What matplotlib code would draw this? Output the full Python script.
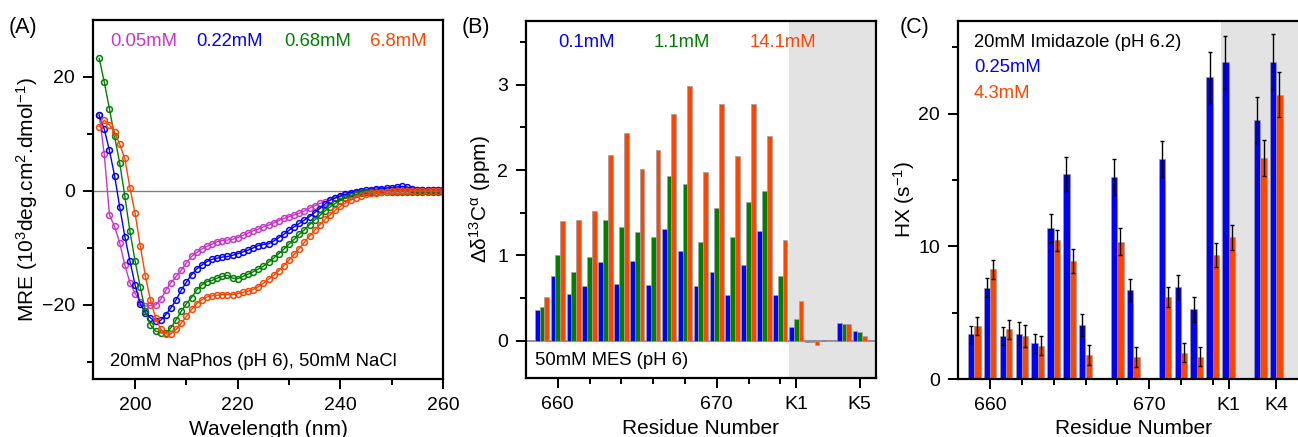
import numpy as np
import matplotlib
matplotlib.use("Agg")
import matplotlib.pyplot as plt

plt.rcParams['font.family'] = ['Liberation Sans', 'DejaVu Sans']
plt.rcParams['mathtext.fontset'] = 'custom'
plt.rcParams['mathtext.rm'] = 'Liberation Sans'
plt.rcParams['mathtext.it'] = 'Liberation Sans'
plt.rcParams['mathtext.default'] = 'regular'

# ---- panel A data: CD spectra (MRE, 10^3 deg cm^2 dmol^-1)
wl = np.arange(193, 261)
mre_005 = [13.4, 6.4, -4.2, -6.2, -9.1, -13.0, -16.1, -18.0, -19.4, -20.2, -20.1, -20.0, -19.0, -17.4,
           -16.1, -15.0, -13.9, -12.6, -11.5, -10.8, -10.2, -9.7, -9.3, -8.9, -8.7, -8.6, -8.5, -8.2,
           -7.8, -7.4, -7.0, -6.7, -6.3, -6.0, -5.6, -5.2, -4.8, -4.5, -4.2, -3.9, -3.5, -3.0, -2.6,
           -2.2, -1.9, -1.6, -1.3, -1.0, -0.7, -0.5, -0.3, -0.2, -0.1, 0.0, 0.1, 0.1, 0.1, 0.1, 0.1,
           0.1, 0.1, 0.1, 0.1, 0.1, 0.1, 0.1, 0.1, 0.1]
mre_022 = [13.3, 10.8, 7.1, 2.7, -2.8, -8.0, -12.3, -16.5, -19.8, -21.4, -22.3, -22.9, -22.7, -21.7,
           -20.5, -19.1, -17.4, -16.0, -14.7, -13.7, -13.0, -12.4, -12.0, -11.8, -11.6, -11.5, -11.3,
           -11.0, -10.7, -10.4, -10.0, -9.6, -9.4, -9.3, -8.8, -8.2, -7.6, -6.9, -6.3, -5.7, -5.1,
           -4.5, -3.8, -3.1, -2.3, -1.6, -1.2, -0.9, -0.6, -0.3, -0.1, 0.0, 0.1, 0.2, 0.3, 0.4, 0.5,
           0.6, 0.7, 0.8, 0.7, 0.4, 0.2, 0.1, 0.1, 0.1, 0.1, 0.1]
mre_068 = [23.3, 19.1, 14.4, 9.6, 4.9, -0.9, -7.1, -12.3, -16.8, -21.1, -23.5, -24.6, -24.9, -25.0,
           -24.0, -22.6, -21.1, -19.8, -18.7, -17.4, -16.5, -15.9, -15.7, -15.3, -15.0, -14.8, -15.3,
           -15.4, -15.0, -14.6, -14.2, -13.7, -13.2, -12.5, -11.8, -11.0, -10.2, -9.3, -8.5, -7.6,
           -6.8, -5.9, -5.1, -4.3, -3.5, -2.8, -2.2, -1.7, -1.2, -0.9, -0.6, -0.4, -0.2, -0.1, -0.1,
           -0.1, -0.1, -0.1, -0.1, -0.1, -0.1, -0.2, -0.2, -0.2, -0.2, -0.2, -0.2, -0.2]
mre_68 = [11.3, 12.4, 11.6, 10.3, 8.2, 5.7, 0.5, -3.9, -9.6, -14.9, -19.2, -22.3, -24.3, -25.1,
          -25.1, -24.3, -23.2, -22.0, -20.8, -19.8, -19.1, -18.6, -18.4, -18.3, -18.2, -18.2, -18.2,
          -18.0, -17.8, -17.6, -17.3, -16.8, -16.2, -15.5, -14.8, -14.0, -13.1, -12.1, -11.1, -10.1,
          -9.0, -7.9, -6.9, -5.9, -5.0, -4.2, -3.4, -2.7, -2.1, -1.6, -1.2, -0.9, -0.6, -0.4, -0.3,
          -0.2, -0.1, 0.0, 0.0, 0.0, 0.0, 0.0, 0.0, 0.0, 0.0, 0.0, 0.0, 0.0]

# ---- panel B data: delta 13C alpha shifts
res_b = np.array([659, 660, 661, 662, 663, 664, 665, 666, 667, 668, 669, 670, 671, 672, 673, 674,
                  675, 676, 677, 678, 679])
cs_01 = [0.36, 0.76, 0.55, 0.64, 0.92, 0.67, 0.93, 0.65, 1.31, 1.05, 0.64, 0.81, 0.54, 0.89, 1.29,
         0.54, 0.16, -0.01, 0.01, 0.21, 0.11]
cs_11 = [0.39, 1.01, 0.80, 0.98, 1.42, 1.33, 1.27, 1.22, 1.93, 1.84, 1.16, 1.56, 1.21, 1.63, 1.75,
         0.76, 0.25, -0.02, 0.0, 0.20, 0.10]
cs_141 = [0.51, 1.40, 1.41, 1.52, 2.18, 2.44, 2.01, 2.23, 2.66, 2.99, 1.98, 2.77, 2.17, 2.77, 2.40,
          1.18, 0.46, -0.05, 0.0, 0.20, 0.06]

# ---- panel C data: HX rates
res_c = np.array([659, 660, 661, 662, 663, 664, 665, 666, 668, 669, 671, 672, 673, 674, 675, 677, 678])
hx_025 = [3.37, 6.88, 3.24, 3.42, 2.69, 11.36, 15.45, 4.07, 15.2, 6.73, 16.56, 6.93, 5.25, 22.73,
          23.87, 19.5, 23.9]
hx_025_err = [0.63, 0.73, 0.65, 0.85, 0.7, 1.05, 1.3, 0.8, 1.35, 0.83, 1.35, 0.87, 0.92, 1.92, 2.0,
              1.72, 2.07]
hx_43 = [4.0, 8.27, 3.74, 3.24, 2.51, 10.45, 8.87, 1.81, 10.35, 1.66, 6.2, 1.98, 1.68, 9.32, 10.68,
         16.66, 21.43]
hx_43_err = [0.7, 0.7, 0.7, 0.85, 0.73, 0.8, 0.9, 0.73, 1.0, 0.73, 0.74, 0.73, 0.73, 0.9, 0.95,
             1.33, 1.7]

tick_pos = [660, 670, 675, 679]
tick_lab_b = ['660', '670', 'K1', 'K5']
tick_pos_c = [660, 670, 675, 678]
tick_lab_c = ['660', '670', 'K1', 'K4']

magenta = '#cc33cc'
blue = '#0000ff'
green = '#008000'
orange = '#ff4500'
fs_txt = 13.3

fig = plt.figure(figsize=(12.98, 4.37), dpi=100)

def style_ax(ax):
    for s in ax.spines.values():
        s.set_linewidth(1.6)
    ax.tick_params(which='both', direction='out', width=1.4, labelsize=14, pad=6,
                   top=False, right=False)
    ax.tick_params(which='major', length=7)
    ax.tick_params(which='minor', length=4)

# ---- (A)
axA = fig.add_axes([93/1298, 58/437, 350/1298, 359/437])
axA.axhline(0, color='grey', lw=1, zorder=0)
for y, c in [(mre_005, magenta), (mre_022, blue), (mre_068, green), (mre_68, orange)]:
    axA.plot(wl, y, '-o', color=c, lw=1, ms=4.2, mfc='none', mew=1.1)
axA.set_xlim(191.8, 260)
axA.set_ylim(-33, 30)
axA.set_xticks([200, 220, 240, 260])
axA.set_xticks([210, 230, 250], minor=True)
axA.set_yticks([-20, 0, 20])
axA.set_yticks([-30, -10, 10], minor=True)
axA.set_yticklabels(['\u221220', '0', '20'])
style_ax(axA)
axA.set_xlabel('Wavelength (nm)', fontsize=15)
axA.set_ylabel('MRE (10$^3$deg.cm$^2$.dmol$^{-1}$)', fontsize=15)
axA.xaxis.set_label_coords(0.5, -0.113)
axA.yaxis.set_label_coords(-0.152, 0.5)
for x, t, c in [(0.049, '0.05mM', magenta), (0.294, '0.22mM', blue), (0.546, '0.68mM', green),
                (0.791, '6.8mM', orange)]:
    axA.text(x, 0.94, t, color=c, fontsize=fs_txt, transform=axA.transAxes, va='center')
axA.text(0.049, 0.05, '20mM NaPhos (pH 6), 50mM NaCl', fontsize=fs_txt, transform=axA.transAxes,
         va='center')
fig.text(9/1298, 1 - 28/437, '(A)', fontsize=15.5, va='center')

# ---- (B)
w = 0.3
axB = fig.add_axes([526/1298, 58.7/437, 349.7/1298, 357.6/437])
axB.axvspan(674.55, 680, color='#e3e3e3', lw=0, zorder=0)
axB.axhline(0, color='grey', lw=1.2, zorder=1)
axB.bar(res_b - w, cs_01, w, color=blue, edgecolor='#a0a0a0', lw=0.5, zorder=2)
axB.bar(res_b, cs_11, w, color=green, edgecolor='#a0a0a0', lw=0.5, zorder=2)
axB.bar(res_b + w, cs_141, w, color=orange, edgecolor='#a0a0a0', lw=0.5, zorder=2)
axB.set_xlim(658, 680)
axB.set_ylim(-0.44, 3.75)
axB.set_xticks(tick_pos)
axB.set_xticklabels(tick_lab_b)
axB.set_xticks([662, 664, 666, 668, 672, 674], minor=True)
axB.set_yticks([0, 1, 2, 3])
axB.set_yticks([0.5, 1.5, 2.5, 3.5], minor=True)
style_ax(axB)
axB.set_xlabel('Residue Number', fontsize=15)
axB.set_ylabel('\u0394\u03b4$^{13}$C$^{\u03b1}$ (ppm)', fontsize=15)
axB.xaxis.set_label_coords(0.5, -0.113)
axB.yaxis.set_label_coords(-0.094, 0.5)
for x, t, c in [(0.0915, '0.1mM', blue), (0.366, '1.1mM', green), (0.64, '14.1mM', orange)]:
    axB.text(x, 0.94, t, color=c, fontsize=fs_txt, transform=axB.transAxes, va='center')
axB.text(0.025, 0.05, '50mM MES (pH 6)', fontsize=fs_txt, transform=axB.transAxes, va='center')
fig.text(462/1298, 1 - 28/437, '(B)', fontsize=15.5, va='center')

# ---- (C)
w = 0.4
axC = fig.add_axes([958.3/1298, 58/437, 349.8/1298, 358.3/437])
axC.axvspan(674.5, 680, color='#e3e3e3', lw=0, zorder=0)
axC.bar(res_c - w/2, hx_025, w, color=blue, edgecolor='#a0a0a0', lw=0.5, zorder=2,
        yerr=hx_025_err, error_kw=dict(ecolor='black', elinewidth=1, capsize=1.5, capthick=1))
axC.bar(res_c + w/2, hx_43, w, color=orange, edgecolor='#a0a0a0', lw=0.5, zorder=2,
        yerr=hx_43_err, error_kw=dict(ecolor='black', elinewidth=1, capsize=1.5, capthick=1))
axC.set_xlim(658, 680)
axC.set_ylim(0, 27)
axC.set_xticks(tick_pos_c)
axC.set_xticklabels(tick_lab_c)
axC.set_xticks([662, 664, 666, 668, 672, 674], minor=True)
axC.set_yticks([0, 10, 20])
axC.set_yticks([5, 15, 25], minor=True)
style_ax(axC)
axC.spines['right'].set_visible(False)
axC.set_xlabel('Residue Number', fontsize=15)
axC.set_ylabel('HX (s$^{-1}$)', fontsize=15)
axC.xaxis.set_label_coords(0.5, -0.113)
axC.yaxis.set_label_coords(-0.118, 0.5)
axC.text(0.045, 0.94, '20mM Imidazole (pH 6.2)', fontsize=fs_txt, transform=axC.transAxes, va='center')
axC.text(0.045, 0.868, '0.25mM', color=blue, fontsize=fs_txt, transform=axC.transAxes, va='center')
axC.text(0.045, 0.796, '4.3mM', color=orange, fontsize=fs_txt, transform=axC.transAxes, va='center')
fig.text(900/1298, 1 - 28/437, '(C)', fontsize=15.5, va='center')

fig.savefig('out.png', dpi=100)
